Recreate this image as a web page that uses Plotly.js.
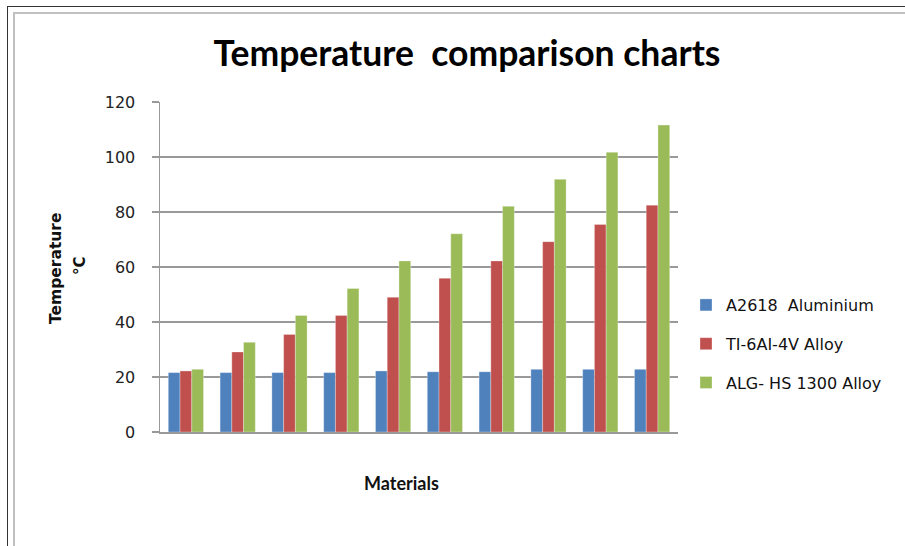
<!DOCTYPE html>
<html>
<head>
<meta charset="utf-8">
<script src="https://cdn.plot.ly/plotly-3.0.1.min.js"></script>
<style>
  html, body { margin: 0; padding: 0; background: #fff; }
  #wrap { position: relative; width: 905px; height: 546px; overflow: hidden; }
  #outer { position: absolute; left: 7px; top: 6px; width: 1000px; height: 1000px;
           border-left: 1px solid #333; border-top: 1px solid #333; }
  #inner { position: absolute; left: 13px; top: 12px; width: 1000px; height: 1000px;
           border-left: 2px solid #c0c0c0; border-top: 2px solid #c0c0c0; }
  #chart { position: absolute; left: 0; top: 0; width: 905px; height: 546px; }
</style>
</head>
<body>
<div id="wrap">
  <div id="outer"></div>
  <div id="inner"></div>
  <div id="chart"></div>
</div>
<script>
const categories = ["1", "2", "3", "4", "5", "6", "7", "8", "9", "10"];
const seriesNames = ["A2618  Aluminium", "TI-6AI-4V Alloy", "ALG- HS 1300 Alloy"];
const aluminium = [21.6, 21.6, 21.6, 21.6, 22.2, 21.9, 21.9, 22.8, 22.8, 22.8];
const tiAlloy = [22.2, 29.1, 35.5, 42.4, 49.0, 55.9, 62.2, 69.2, 75.5, 82.5];
const algAlloy = [22.8, 32.6, 42.4, 52.2, 62.2, 72.1, 82.1, 91.9, 101.7, 111.6];
const yTicks = [0, 20, 40, 60, 80, 100, 120];
const colors = ["#4F81BD", "#C0504D", "#9BBB59"];

const series = [aluminium, tiAlloy, algAlloy];
const font = "Lato, 'Open Sans', sans-serif";
const wide = "'DejaVu Sans', sans-serif";

const traces = series.map((vals, i) => ({
  type: "bar",
  x: categories,
  y: vals,
  name: seriesNames[i],
  legendgroup: "g" + i,
  marker: { color: colors[i], line: { color: "rgba(255,255,255,0.5)", width: 0.6 } },
  hoverinfo: "y+name"
}));

const plotW = 905 - 160 - 227, plotH = 546 - 102 - 114;
const toPX = px => (px - 160) / plotW;
const toPY = py => (546 - 114 - py) / plotH;

const layout = {
  width: 905,
  height: 546,
  margin: { l: 160, r: 227, t: 102, b: 114 },
  paper_bgcolor: "rgba(0,0,0,0)",
  plot_bgcolor: "rgba(0,0,0,0)",
  barmode: "group",
  bargap: 0.32,
  bargroupgap: 0,
  font: { family: font, color: "#222" },
  title: {
    text: "<b>Temperature  comparison charts</b>",
    font: { family: font, size: 35.5, color: "#000" },
    x: 0.516, xref: "container", xanchor: "center",
    y: 1 - 54 / 546, yref: "container", yanchor: "middle"
  },
  xaxis: {
    type: "category",
    showticklabels: false,
    showgrid: false,
    showline: true,
    linecolor: "#999",
    linewidth: 1.5,
    ticks: ""
  },
  yaxis: {
    range: [0, 120],
    tickvals: yTicks,
    ticktext: yTicks.map(String),
    showgrid: true,
    gridcolor: "#999",
    gridwidth: 1.5,
    showline: true,
    linecolor: "#999",
    linewidth: 1.5,
    ticks: "outside",
    ticklen: 7,
    tickcolor: "#999",
    tickwidth: 1.5,
    ticklabelstandoff: 13,
    tickfont: { family: wide, size: 16, color: "#222" },
    zeroline: false
  },
  legend: {
    xref: "container", yref: "container",
    x: 686 / 905, y: 1 - 288 / 546,
    xanchor: "left", yanchor: "top",
    font: { family: wide, size: 16, color: "#111" },
    tracegroupgap: 15,
    traceorder: "grouped",
    bgcolor: "rgba(0,0,0,0)"
  },
  annotations: [
    { text: "<b>Temperature</b>", textangle: -90, xref: "paper", yref: "paper",
      x: toPX(56), y: toPY(268), xanchor: "center", yanchor: "middle", showarrow: false,
      font: { family: wide, size: 15.5, color: "#111" } },
    { text: "<b>°C</b>", textangle: -90, xref: "paper", yref: "paper",
      x: toPX(80), y: toPY(266), xanchor: "center", yanchor: "middle", showarrow: false,
      font: { family: wide, size: 15, color: "#111" } },
    { text: "<b>Materials</b>", xref: "paper", yref: "paper",
      x: toPX(401), y: toPY(483), xanchor: "center", yanchor: "middle", showarrow: false,
      font: { family: font, size: 18, color: "#111" } }
  ]
};

Plotly.newPlot("chart", traces, layout, { displayModeBar: false, staticPlot: true });
</script>
</body>
</html>
